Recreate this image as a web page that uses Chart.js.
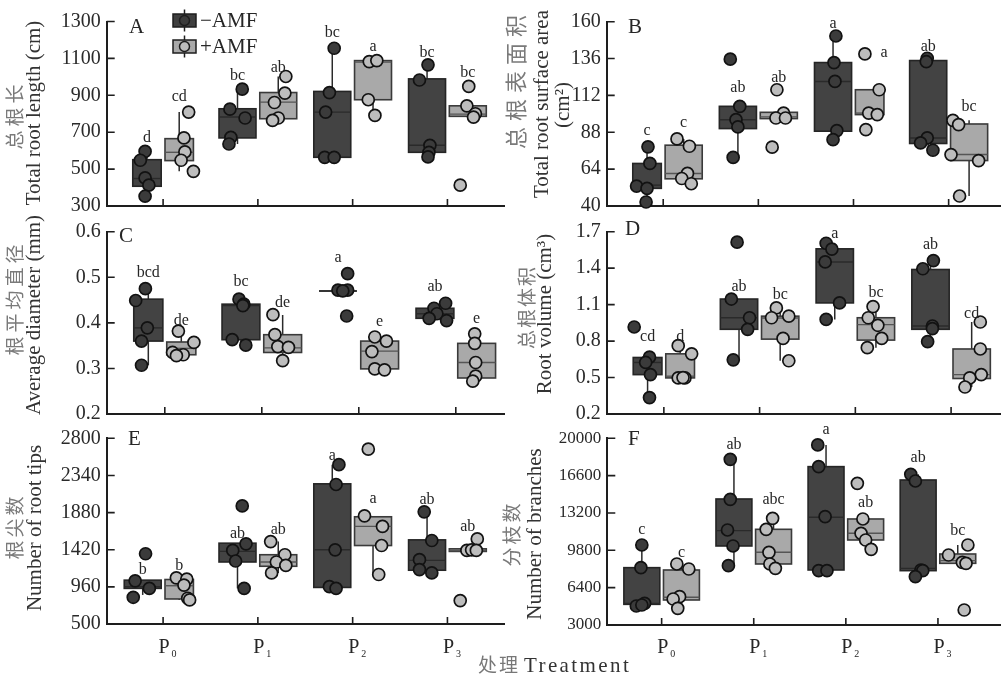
<!DOCTYPE html>
<html lang="zh">
  <head>
    <meta charset="UTF-8" />
    <title>AMF root traits</title>
    <script src="https://cdn.jsdelivr.net/npm/chart.js@4"></script>
    <style>
      body {
        margin: 0;
        background: #fff;
        width: 1008px;
        height: 677px;
        position: relative;
        overflow: hidden;
      }
      canvas {
        position: absolute;
      }
      #xtitle {
        position: absolute;
        left: 478px;
        top: 654px;
        line-height: 20px;
        white-space: nowrap;
      }
      #xtitle .zh {
        font-family: "Noto Sans CJK SC", sans-serif;
        font-size: 19px;
        letter-spacing: 2px;
        color: #777;
      }
      #xtitle .en {
        font-family: "Liberation Serif", serif;
        font-size: 21px;
        letter-spacing: 2.4px;
        color: #333;
      }
    </style>
  </head>
  <body>
    <canvas id="cA"></canvas>
    <canvas id="cB"></canvas>
    <canvas id="cC"></canvas>
    <canvas id="cD"></canvas>
    <canvas id="cE"></canvas>
    <canvas id="cF"></canvas>
    <div id="xtitle"><span class="zh">处理</span> <span class="en">Treatment</span></div>

    <script>
      // categories and groups (order of every list below: P0-,P0+,P1-,P1+,P2-,P2+,P3-,P3+)
      const treatments = ["0", "1", "2", "3"];
      const groups = ["−AMF", "+AMF"];

      // box stats: [lower whisker, q1, median, q3, upper whisker]
      // A - total root length
      const lenTicks = [300, 500, 700, 900, 1100, 1300];
      const lenBox = [
        [353, 407, 449, 551, 596], [488, 546, 591, 665, 809],
        [636, 669, 782, 827, 933], [764, 773, 863, 915, 1002],
        [564, 564, 809, 921, 1155], [791, 876, 1080, 1088, 1088],
        [566, 591, 629, 989, 1065], [786, 786, 798, 843, 843],
      ];
      const lenPts = [
        [596, 548, 452, 413, 353], [809, 669, 593, 548, 488],
        [933, 825, 777, 672, 636], [1002, 912, 861, 777, 764],
        [1155, 915, 809, 564, 564], [1083, 1088, 876, 791],
        [1065, 983, 629, 591, 566], [948, 843, 800, 782, 413],
      ];
      const lenJit = [
        [-0.02, -0.07, -0.02, 0.02, -0.02], [0.1, 0.05, 0.06, 0.02, 0.15],
        [0.05, -0.08, 0.08, -0.07, -0.09], [0.08, 0.07, -0.04, 0, -0.06],
        [0.02, -0.03, -0.07, -0.08, 0.02], [-0.04, 0.04, -0.05, 0.02],
        [0.01, -0.08, 0.03, 0.02, 0.01], [0.01, -0.01, 0.08, 0.06, -0.08],
      ];
      const lenSig = ["d", "cd", "bc", "ab", "bc", "a", "bc", "bc"];
      const lenSigY = [670, 892, 1005, 1049, 1238, 1162, 1130, 1022];

      // B - total root surface area
      const areaTicks = [40, 64, 88, 112, 136, 160];
      const areaBox = [
        [42.6, 51.5, 53.6, 67.7, 78.5], [54.5, 57.7, 61.2, 79.6, 83.7],
        [71.6, 90.4, 96.2, 104.9, 104.9], [96.9, 96.9, 98, 101, 101],
        [83.2, 88.7, 121.1, 133.4, 150.7], [99.5, 99.5, 100.5, 115.7, 115.7],
        [76.3, 80.7, 84.3, 134.7, 136.2], [46.5, 69.6, 73.5, 93.4, 95.8],
      ];
      const areaPts = [
        [78.5, 67.7, 53, 51.5, 42.6], [83.7, 78.9, 61.2, 57.9, 54.5],
        [135.6, 104.9, 96.2, 91.5, 71.6], [115.7, 100.5, 97.3, 97.3, 78.3],
        [150.7, 133.4, 121.1, 89.1, 83.2], [139, 115.7, 100.5, 99.5, 89.7],
        [136.2, 134, 84.3, 81.1, 76.3], [95.8, 93, 73.5, 69.6, 46.5],
      ];
      const areaJit = [
        [0.01, 0.03, -0.11, 0, -0.01], [-0.07, 0.06, 0.04, -0.02, 0.08],
        [-0.08, 0.02, -0.02, 0, -0.05], [-0.02, 0.05, -0.03, 0.07, -0.07],
        [0.03, 0.01, 0.02, 0.04, 0], [-0.05, 0.1, -0.01, 0.08, -0.04],
        [-0.01, -0.02, -0.01, -0.08, 0.05], [-0.17, -0.11, -0.19, 0.1, -0.1],
      ];
      const areaSig = ["c", "c", "ab", "ab", "a", "a", "ab", "bc"];
      const areaSigY = [89.1, 94, 116.8, 123.2, 158.9, 139.5, 143.8, 104.9];

      // C - average diameter
      const diamTicks = [0.2, 0.3, 0.4, 0.5, 0.6];
      const diamBox = [
        [0.307, 0.36, 0.389, 0.452, 0.475], [0.328, 0.33, 0.344, 0.358, 0.382],
        [0.351, 0.363, 0.438, 0.441, 0.452], [0.317, 0.335, 0.345, 0.374, 0.417],
        [0.47, 0.47, 0.47, 0.47, 0.47], [0.297, 0.299, 0.338, 0.36, 0.369],
        [0.405, 0.41, 0.42, 0.432, 0.443], [0.272, 0.279, 0.313, 0.355, 0.376],
      ];
      const diamPts = [
        [0.475, 0.449, 0.389, 0.36, 0.307], [0.382, 0.357, 0.335, 0.33, 0.328],
        [0.452, 0.441, 0.438, 0.363, 0.351], [0.418, 0.374, 0.348, 0.346, 0.317],
        [0.508, 0.472, 0.472, 0.47, 0.415], [0.369, 0.36, 0.337, 0.299, 0.297],
        [0.443, 0.432, 0.42, 0.41, 0.405], [0.376, 0.355, 0.313, 0.283, 0.272],
      ];
      const diamJit = [
        [-0.03, -0.13, -0.01, -0.07, -0.07], [-0.03, 0.13, -0.09, 0.02, -0.05],
        [-0.02, 0.03, 0.02, -0.09, 0.05], [-0.1, -0.08, -0.05, 0.06, 0],
        [0.1, 0, 0.1, 0.05, 0.09], [-0.05, 0.07, -0.08, -0.05, 0.05],
        [0.11, -0.01, 0.02, -0.06, 0.12], [-0.02, -0.02, -0.01, -0.01, -0.04],
      ];
      const diamSig = ["bcd", "de", "bc", "de", "a", "e", "ab", "e"];
      const diamSigY = [0.51, 0.405, 0.49, 0.443, 0.542, 0.402, 0.48, 0.409];

      // D - root volume
      const volTicks = [0.2, 0.5, 0.8, 1.1, 1.4, 1.7];
      const volBox = [
        [0.335, 0.524, 0.624, 0.665, 0.665], [0.497, 0.497, 0.511, 0.695, 0.762],
        [0.646, 0.897, 0.992, 1.146, 1.146], [0.638, 0.816, 0.99, 1.005, 1.073],
        [0.978, 1.114, 1.451, 1.559, 1.605], [0.746, 0.808, 0.935, 0.992, 1.084],
        [0.795, 0.897, 0.924, 1.389, 1.462], [0.422, 0.492, 0.524, 0.735, 0.957],
      ];
      const volPts = [
        [0.916, 0.668, 0.624, 0.524, 0.335], [0.762, 0.695, 0.497, 0.497, 0.5],
        [1.614, 1.146, 0.992, 0.897, 0.646], [1.073, 0.992, 1.005, 0.822, 0.638],
        [1.605, 1.557, 1.451, 1.114, 0.978], [1.084, 0.992, 0.93, 0.822, 0.746],
        [1.462, 1.395, 0.924, 0.903, 0.795], [0.957, 0.735, 0.524, 0.497, 0.422],
      ];
      const volJit = [
        [-0.14, 0.02, -0.02, 0.03, 0.02], [-0.02, 0.12, -0.02, 0.05, 0.03],
        [-0.02, -0.08, 0.11, 0.09, -0.06], [-0.04, -0.09, 0.09, 0.03, 0.09],
        [-0.09, -0.03, -0.1, 0.05, -0.09], [-0.03, -0.08, 0.02, 0.06, -0.09],
        [0.03, -0.08, 0.02, 0.02, -0.03], [0.09, 0.09, 0.1, -0.02, -0.07],
      ];
      const volSig = ["cd", "d", "ab", "bc", "a", "bc", "ab", "cd"];
      const volSigY = [0.835, 0.835, 1.249, 1.181, 1.686, 1.195, 1.592, 1.024];

      // E - number of root tips
      const tipsTicks = [500, 960, 1420, 1880, 2340, 2800];
      const tipsBox = [
        [860, 941, 962, 1043, 1043], [798, 810, 974, 1051, 1072],
        [941, 1268, 1399, 1501, 1501], [1133, 1215, 1268, 1358, 1521],
        [941, 953, 1419, 2236, 2473], [1113, 1472, 1709, 1828, 1828],
        [1133, 1166, 1288, 1542, 1889], [1399, 1399, 1411, 1431, 1431],
      ];
      const tipsPts = [
        [1370, 1035, 941, 831], [1072, 1056, 982, 819, 798],
        [1963, 1493, 1411, 1280, 941], [1521, 1358, 1268, 1227, 1133],
        [2473, 2228, 1419, 962, 941], [2665, 1840, 1709, 1472, 1113],
        [1889, 1534, 1297, 1174, 1133], [1554, 1411, 1419, 1411, 790],
      ];
      const tipsJit = [
        [0.03, -0.08, 0.07, -0.1], [-0.03, 0.08, 0.05, 0.09, 0.11],
        [0.05, 0.09, -0.05, -0.02, 0.07], [-0.08, 0.07, -0.02, 0.08, -0.07],
        [0.07, 0.04, 0.03, -0.03, 0.04], [-0.05, -0.09, 0.1, 0.09, 0.06],
        [-0.03, 0.05, -0.08, -0.08, 0.05], [0.1, -0.01, 0.04, 0.09, -0.08],
      ];
      const tipsSig = ["b", "b", "ab", "ab", "a", "a", "ab", "ab"];
      const tipsSigY = [1166, 1227, 1623, 1664, 2588, 2056, 2036, 1709];

      // F - number of branches
      const brTicks = [3000, 6400, 9800, 13200, 16600, 20000];
      const brBox = [
        [4730, 4882, 4973, 8221, 10286], [4518, 5277, 5520, 8009, 8556],
        [8404, 10195, 11591, 14475, 18087], [8161, 8556, 9618, 11713, 12714],
        [7948, 8009, 12805, 17420, 19393], [9891, 10741, 11348, 12654, 12654],
        [7402, 7948, 8160, 16205, 16722], [8616, 8616, 8859, 9466, 10286],
      ];
      const brPts = [
        [10286, 8221, 4973, 4730, 4821], [8556, 8100, 5580, 5368, 4518],
        [18087, 14445, 11652, 10195, 8404], [12714, 11713, 9618, 8556, 8161],
        [19393, 17420, 12866, 7948, 7948], [15902, 12654, 11348, 10741, 9891],
        [16722, 16114, 8009, 7948, 7402], [10286, 9375, 8707, 8616, 4367],
      ];
      const brJit = [
        [0, -0.01, 0.03, -0.06, 0], [-0.05, 0.08, -0.02, -0.09, -0.04],
        [-0.04, -0.04, -0.07, -0.01, -0.06], [-0.01, -0.08, -0.05, -0.04, 0.02],
        [-0.09, -0.08, -0.01, -0.08, 0.01], [-0.09, -0.03, -0.05, 0, 0.06],
        [-0.08, -0.03, 0.03, 0.05, -0.03], [0.11, -0.1, 0.05, 0.09, 0.07],
      ];
      const brSig = ["c", "c", "ab", "abc", "a", "ab", "ab", "bc"];
      const brSigY = [11652, 9588, 19393, 14445, 20759, 14141, 18239, 11561];

      // ---- layout / styling ----
      const SERIF = "'Liberation Serif', 'Times New Roman', serif";
      const CJK = "'Noto Sans CJK SC', sans-serif";
      const GAP = 0.02, NARROW = 0.3, WIDE = 0.39;
      const INK = "#262626";

      const panels = [
        {
          id: "cA", tag: "A", canvas: [0, 0, 512, 224],
          area: { left: 106.7, top: 21.5, right: 506, bottom: 207 },
          xr: [-0.595, 3.6], yr: [300, 1300], ticks: lenTicks, fmt: (v) => String(v),
          box: lenBox, pts: lenPts, jit: lenJit, sig: lenSig, sigY: lenSigY,
          wide: [0, 0, 1, 1, 1, 1, 1, 1],
          zh: { text: "总根长", x: 15, y: 117, size: 19, sp: 4 },
          en: [{ text: "Total root length (cm)", x: 34, y: 113 }],
          tagPos: [129, 33], legend: true,
        },
        {
          id: "cB", tag: "B", canvas: [498, 0, 510, 224],
          area: { left: 606.7, top: 21.7, right: 1008, bottom: 206.7 },
          xr: [-0.594, 3.543], yr: [40, 160], ticks: areaTicks, fmt: (v) => String(v),
          box: areaBox, pts: areaPts, jit: areaJit, sig: areaSig, sigY: areaSigY,
          sigDx: [0, 0, 0, 0, 0, 0.15, 0, 0],
          wide: [0, 1, 1, 1, 1, 0, 1, 1],
          zh: { text: "总根表面积", x: 516, y: 82, size: 22, sp: 6 },
          en: [
            { text: "Total root surface area", x: 542, y: 104 },
            { text: "(cm²)", x: 563, y: 105 },
          ],
          tagPos: [628, 33],
        },
        {
          id: "cC", tag: "C", canvas: [0, 210, 512, 222],
          area: { left: 106.7, top: 231.7, right: 506, bottom: 416.7 },
          xr: [-0.599, 3.5], yr: [0.2, 0.6], ticks: diamTicks, fmt: (v) => v.toFixed(1),
          box: diamBox, pts: diamPts, jit: diamJit, sig: diamSig, sigY: diamSigY,
          wide: [0, 0, 1, 1, 1, 1, 1, 1],
          zh: { text: "根平均直径", x: 15, y: 300, size: 19, sp: 4 },
          en: [{ text: "Average diameter (mm)", x: 34, y: 315 }],
          tagPos: [119, 242],
        },
        {
          id: "cD", tag: "D", canvas: [498, 210, 510, 222],
          area: { left: 606.7, top: 231.7, right: 1008, bottom: 416.7 },
          xr: [-0.597, 3.514], yr: [0.2, 1.7], ticks: volTicks, fmt: (v) => v.toFixed(1),
          box: volBox, pts: volPts, jit: volJit, sig: volSig, sigY: volSigY,
          wide: [0, 0, 1, 1, 1, 1, 1, 1],
          zh: { text: "总根体积", x: 527, y: 308, size: 19, sp: 2 },
          en: [{ text: "Root volume (cm³)", x: 545, y: 314 }],
          tagPos: [625, 235],
        },
        {
          id: "cE", tag: "E", canvas: [0, 418, 512, 259],
          area: { left: 106.7, top: 438.3, right: 506, bottom: 624 },
          xr: [-0.595, 3.6], yr: [500, 2800], ticks: tipsTicks, fmt: (v) => String(v),
          box: tipsBox, pts: tipsPts, jit: tipsJit, sig: tipsSig, sigY: tipsSigY,
          wide: [1, 0, 1, 1, 1, 1, 1, 1],
          zh: { text: "根尖数", x: 15, y: 528, size: 19, sp: 3 },
          en: [{ text: "Number of root tips", x: 35, y: 528 }],
          tagPos: [128, 445], xlabels: true,
        },
        {
          id: "cF", tag: "F", canvas: [498, 418, 510, 259],
          area: { left: 607.3, top: 438.3, right: 1008, bottom: 625 },
          xr: [-0.59, 3.677], yr: [3000, 20000], ticks: brTicks, fmt: (v) => String(v),
          tickSize: 17,
          box: brBox, pts: brPts, jit: brJit, sig: brSig, sigY: brSigY,
          wide: [1, 1, 1, 1, 1, 1, 1, 1],
          zh: { text: "分枝数", x: 512, y: 535, size: 19, sp: 3 },
          en: [{ text: "Number of branches", x: 535, y: 534 }],
          tagPos: [628, 445], xlabels: true,
        },
      ];

      function boxPos(k, wide) {
        const w = wide ? WIDE : NARROW;
        const side = k % 2 ? 1 : -1;
        return { c: Math.floor(k / 2) + side * (GAP + w / 2), w: w };
      }

      function pointData(p, side) {
        const out = [];
        p.pts.forEach((vals, k) => {
          if (k % 2 !== side) return;
          const c = boxPos(k, p.wide[k]).c;
          vals.forEach((v, j) => out.push({ x: c + p.jit[k][j], y: v }));
        });
        return out;
      }

      function vText(ctx, txt, x, y, font, color, sp) {
        ctx.save();
        ctx.translate(x, y);
        ctx.rotate(-Math.PI / 2);
        ctx.font = font;
        ctx.fillStyle = color;
        ctx.textAlign = "center";
        ctx.textBaseline = "middle";
        if (sp) ctx.letterSpacing = sp + "px";
        ctx.fillText(txt, sp ? sp / 2 : 0, 0);
        ctx.restore();
      }

      function legendItem(ctx, x, y, fill, dot) {
        ctx.strokeStyle = "#1e1e1e";
        ctx.lineWidth = 1.5;
        ctx.beginPath();
        ctx.moveTo(x, y - 11);
        ctx.lineTo(x, y + 11);
        ctx.stroke();
        ctx.fillStyle = fill;
        ctx.fillRect(x - 11.5, y - 6.5, 23, 13);
        ctx.strokeRect(x - 11.5, y - 6.5, 23, 13);
        ctx.beginPath();
        ctx.arc(x, y, 5, 0, Math.PI * 2);
        ctx.fillStyle = dot;
        ctx.fill();
        ctx.stroke();
      }

      function panelPlugin(p) {
        const ox = p.canvas[0], oy = p.canvas[1];
        return {
          id: "panel" + p.tag,
          beforeDatasetsDraw(chart) {
            const { ctx, scales: { x, y } } = chart;
            ctx.save();
            p.box.forEach((b, k) => {
              const { c, w } = boxPos(k, p.wide[k]);
              const x0 = x.getPixelForValue(c - w / 2);
              const x1 = x.getPixelForValue(c + w / 2);
              const xc = x.getPixelForValue(c);
              const [lo, q1, md, q3, hi] = b.map((v) => y.getPixelForValue(v));
              const dark = k % 2 === 0;
              ctx.strokeStyle = "#2b2b2b";
              ctx.lineWidth = 1.5;
              ctx.beginPath();
              ctx.moveTo(xc, q3);
              ctx.lineTo(xc, hi);
              ctx.moveTo(xc, q1);
              ctx.lineTo(xc, lo);
              ctx.stroke();
              ctx.fillStyle = dark ? "#434343" : "#a9a9a9";
              ctx.fillRect(x0, q3, x1 - x0, q1 - q3);
              ctx.strokeStyle = dark ? "#252525" : "#3a3a3a";
              ctx.lineWidth = 1.6;
              ctx.strokeRect(x0, q3, x1 - x0, q1 - q3);
              ctx.strokeStyle = dark ? "#2a2a2a" : "#555";
              ctx.lineWidth = 1.4;
              ctx.beginPath();
              ctx.moveTo(x0, md);
              ctx.lineTo(x1, md);
              ctx.stroke();
            });
            ctx.restore();
          },
          afterDraw(chart) {
            const { ctx, chartArea: a, scales: { x, y } } = chart;
            ctx.save();
            // inward tick marks
            ctx.strokeStyle = "#1e1e1e";
            ctx.lineWidth = 1.6;
            ctx.beginPath();
            p.ticks.forEach((v) => {
              const py = y.getPixelForValue(v);
              ctx.moveTo(a.left, py);
              ctx.lineTo(a.left + 8, py);
            });
            treatments.forEach((t, i) => {
              const px = x.getPixelForValue(i);
              ctx.moveTo(px, a.bottom);
              ctx.lineTo(px, a.bottom - 7);
            });
            ctx.stroke();

            // significance letters
            ctx.fillStyle = INK;
            ctx.font = "16px " + SERIF;
            ctx.textAlign = "center";
            ctx.textBaseline = "middle";
            p.sig.forEach((s, k) => {
              const dx = p.sigDx ? p.sigDx[k] : 0;
              const c = boxPos(k, p.wide[k]).c + dx;
              ctx.fillText(s, x.getPixelForValue(c), y.getPixelForValue(p.sigY[k]));
            });

            // panel tag
            ctx.font = "21px " + SERIF;
            ctx.textAlign = "left";
            ctx.textBaseline = "alphabetic";
            ctx.fillText(p.tag, p.tagPos[0] - ox, p.tagPos[1] - oy);

            // category labels
            if (p.xlabels) {
              treatments.forEach((t, i) => {
                const px = x.getPixelForValue(i);
                ctx.font = "20px " + SERIF;
                ctx.fillText("P", px - 4.5, 653 - oy);
                ctx.font = "10px " + SERIF;
                ctx.fillText(t, px + 8.5, 657 - oy);
              });
            }

            // axis titles
            vText(ctx, p.zh.text, p.zh.x - ox, p.zh.y - oy, p.zh.size + "px " + CJK, "#7a7a7a", p.zh.sp);
            p.en.forEach((l) => vText(ctx, l.text, l.x - ox, l.y - oy, "21px " + SERIF, "#333"));

            // legend
            if (p.legend) {
              legendItem(ctx, 184.5 - ox, 20.5 - oy, "#3f3f3f", "#3b3b3b");
              legendItem(ctx, 184.5 - ox, 46.5 - oy, "#a9a9a9", "#bdbdbd");
              ctx.fillStyle = INK;
              ctx.font = "21px " + SERIF;
              ctx.textAlign = "left";
              ctx.textBaseline = "middle";
              ctx.fillText(groups[0], 200 - ox, 21 - oy);
              ctx.fillText(groups[1], 200 - ox, 47 - oy);
            }
            ctx.restore();
          },
        };
      }

      function makePanel(p) {
        const cv = document.getElementById(p.id);
        cv.width = p.canvas[2];
        cv.height = p.canvas[3];
        cv.style.left = p.canvas[0] + "px";
        cv.style.top = p.canvas[1] + "px";

        const axisGrid = { display: true, drawOnChartArea: false, drawTicks: false };
        const axisBorder = { display: true, color: "#1e1e1e", width: 2 };

        return new Chart(cv, {
          type: "scatter",
          data: {
            datasets: [0, 1].map((side) => ({
              label: groups[side],
              data: pointData(p, side),
              pointRadius: 6,
              pointBackgroundColor: side ? "#bdbdbd" : "#3b3b3b",
              pointBorderColor: "#121212",
              pointBorderWidth: 1.7,
              clip: false,
            })),
          },
          options: {
            responsive: false,
            animation: false,
            events: [],
            layout: {
              padding: {
                top: p.area.top - p.canvas[1],
                right: p.canvas[0] + p.canvas[2] - p.area.right,
                left: 0,
                bottom: 0,
              },
            },
            plugins: { legend: { display: false }, tooltip: { enabled: false } },
            scales: {
              x: {
                type: "linear",
                min: p.xr[0],
                max: p.xr[1],
                ticks: { display: false },
                grid: axisGrid,
                border: axisBorder,
                afterFit: (s) => {
                  s.height = p.canvas[1] + p.canvas[3] - p.area.bottom;
                },
              },
              y: {
                type: "linear",
                min: p.yr[0],
                max: p.yr[1],
                afterBuildTicks: (s) => {
                  s.ticks = p.ticks.map((v) => ({ value: v }));
                },
                ticks: {
                  color: "#2a2a2a",
                  padding: 6,
                  font: { family: SERIF, size: p.tickSize || 20 },
                  callback: (v) => p.fmt(v),
                },
                grid: axisGrid,
                border: axisBorder,
                afterFit: (s) => {
                  s.width = p.area.left - p.canvas[0];
                },
              },
            },
          },
          plugins: [panelPlugin(p)],
        });
      }

      panels.forEach(makePanel);
    </script>
  </body>
</html>
